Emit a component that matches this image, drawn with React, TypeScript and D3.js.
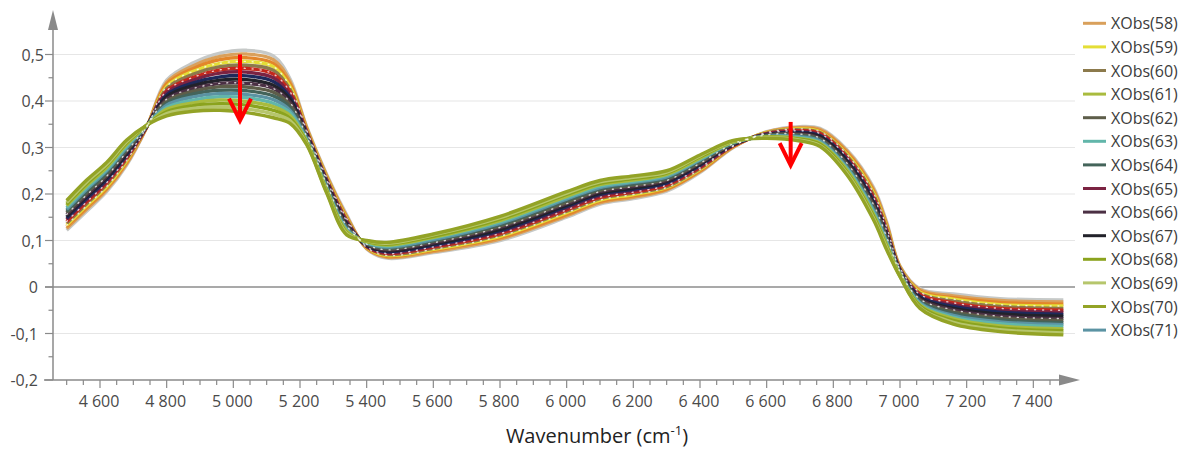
import React from "react";
import * as d3 from "d3";

const wavenumbers = [4500, 4560, 4620, 4680, 4740, 4800, 4880, 4960, 5040, 5120, 5170, 5220, 5280, 5340, 5400, 5460, 5600, 5800, 6000, 6100, 6200, 6300, 6400, 6500, 6600, 6700, 6760, 6840, 6920, 6960, 7000, 7060, 7160, 7300, 7490];

// absorbance per observation (top of the 5000 band first)
const xObs50 = [0.122, 0.163, 0.205, 0.262, 0.343, 0.445, 0.482, 0.503, 0.509, 0.497, 0.448, 0.345, 0.242, 0.155, 0.082, 0.062, 0.074, 0.100, 0.150, 0.178, 0.190, 0.206, 0.246, 0.300, 0.334, 0.345, 0.341, 0.296, 0.215, 0.140, 0.045, -0.004, -0.015, -0.025, -0.028];
const xObs58 = [0.126, 0.167, 0.209, 0.265, 0.343, 0.440, 0.476, 0.496, 0.501, 0.489, 0.442, 0.343, 0.240, 0.152, 0.083, 0.064, 0.076, 0.103, 0.153, 0.181, 0.193, 0.209, 0.248, 0.301, 0.333, 0.343, 0.339, 0.293, 0.211, 0.136, 0.044, -0.006, -0.019, -0.029, -0.032];
const xObs51 = [0.130, 0.171, 0.212, 0.268, 0.344, 0.436, 0.470, 0.489, 0.493, 0.481, 0.437, 0.340, 0.237, 0.150, 0.084, 0.066, 0.079, 0.106, 0.156, 0.184, 0.196, 0.211, 0.250, 0.302, 0.332, 0.341, 0.336, 0.290, 0.207, 0.133, 0.042, -0.009, -0.023, -0.033, -0.037];
const xObs59 = [0.133, 0.175, 0.216, 0.272, 0.344, 0.431, 0.464, 0.481, 0.485, 0.474, 0.431, 0.338, 0.235, 0.147, 0.085, 0.068, 0.081, 0.109, 0.160, 0.187, 0.199, 0.214, 0.253, 0.303, 0.332, 0.340, 0.334, 0.286, 0.203, 0.129, 0.041, -0.011, -0.026, -0.038, -0.041];
const xObs60 = [0.137, 0.179, 0.220, 0.275, 0.344, 0.427, 0.458, 0.474, 0.477, 0.466, 0.425, 0.336, 0.233, 0.145, 0.086, 0.070, 0.083, 0.112, 0.163, 0.190, 0.202, 0.216, 0.255, 0.304, 0.331, 0.338, 0.332, 0.283, 0.199, 0.126, 0.040, -0.014, -0.030, -0.042, -0.046];
const xObs52 = [0.141, 0.183, 0.224, 0.278, 0.344, 0.422, 0.451, 0.467, 0.470, 0.458, 0.420, 0.334, 0.230, 0.142, 0.087, 0.072, 0.086, 0.115, 0.166, 0.193, 0.204, 0.219, 0.257, 0.304, 0.330, 0.336, 0.330, 0.280, 0.194, 0.122, 0.038, -0.016, -0.034, -0.046, -0.050];
const xObs65 = [0.145, 0.187, 0.227, 0.281, 0.345, 0.418, 0.445, 0.460, 0.462, 0.450, 0.414, 0.331, 0.228, 0.140, 0.088, 0.074, 0.088, 0.118, 0.169, 0.196, 0.207, 0.222, 0.259, 0.305, 0.329, 0.334, 0.327, 0.277, 0.190, 0.119, 0.037, -0.019, -0.038, -0.050, -0.054];
const xObs53 = [0.148, 0.191, 0.231, 0.284, 0.345, 0.413, 0.439, 0.452, 0.454, 0.442, 0.408, 0.329, 0.226, 0.137, 0.089, 0.076, 0.090, 0.121, 0.173, 0.199, 0.210, 0.224, 0.262, 0.306, 0.328, 0.332, 0.325, 0.274, 0.186, 0.115, 0.036, -0.021, -0.042, -0.054, -0.059];
const xObs67 = [0.152, 0.195, 0.235, 0.287, 0.346, 0.409, 0.433, 0.445, 0.446, 0.434, 0.403, 0.327, 0.223, 0.135, 0.090, 0.078, 0.093, 0.124, 0.176, 0.202, 0.213, 0.227, 0.264, 0.307, 0.327, 0.330, 0.323, 0.271, 0.182, 0.112, 0.034, -0.024, -0.046, -0.058, -0.063];
const xObs66 = [0.156, 0.198, 0.238, 0.291, 0.346, 0.404, 0.427, 0.438, 0.438, 0.427, 0.397, 0.324, 0.221, 0.132, 0.092, 0.080, 0.095, 0.128, 0.179, 0.205, 0.216, 0.229, 0.266, 0.308, 0.327, 0.329, 0.320, 0.267, 0.178, 0.108, 0.033, -0.026, -0.049, -0.063, -0.068];
const xObs62 = [0.160, 0.202, 0.242, 0.294, 0.346, 0.400, 0.421, 0.431, 0.430, 0.419, 0.392, 0.322, 0.218, 0.130, 0.093, 0.082, 0.098, 0.131, 0.182, 0.208, 0.219, 0.232, 0.268, 0.309, 0.326, 0.327, 0.318, 0.264, 0.174, 0.105, 0.031, -0.029, -0.053, -0.067, -0.072];
const xObs64 = [0.163, 0.206, 0.246, 0.297, 0.346, 0.395, 0.415, 0.423, 0.422, 0.411, 0.386, 0.320, 0.216, 0.127, 0.094, 0.084, 0.100, 0.134, 0.186, 0.211, 0.222, 0.234, 0.271, 0.310, 0.325, 0.325, 0.316, 0.261, 0.170, 0.101, 0.030, -0.031, -0.057, -0.071, -0.077];
const xObs71 = [0.167, 0.210, 0.250, 0.300, 0.347, 0.391, 0.409, 0.416, 0.414, 0.403, 0.380, 0.318, 0.214, 0.125, 0.095, 0.086, 0.102, 0.137, 0.189, 0.214, 0.225, 0.237, 0.273, 0.311, 0.324, 0.323, 0.314, 0.258, 0.166, 0.098, 0.029, -0.034, -0.061, -0.075, -0.081];
const xObs63 = [0.171, 0.214, 0.253, 0.303, 0.347, 0.386, 0.402, 0.409, 0.407, 0.395, 0.375, 0.315, 0.211, 0.122, 0.096, 0.088, 0.105, 0.140, 0.192, 0.217, 0.227, 0.240, 0.275, 0.311, 0.323, 0.321, 0.311, 0.255, 0.161, 0.094, 0.027, -0.036, -0.065, -0.079, -0.085];
const xObs61 = [0.175, 0.218, 0.257, 0.307, 0.347, 0.382, 0.396, 0.402, 0.399, 0.388, 0.369, 0.313, 0.209, 0.120, 0.097, 0.090, 0.107, 0.143, 0.195, 0.220, 0.230, 0.242, 0.277, 0.312, 0.323, 0.319, 0.309, 0.252, 0.157, 0.091, 0.026, -0.039, -0.068, -0.084, -0.090];
const xObs68 = [0.178, 0.222, 0.261, 0.310, 0.348, 0.377, 0.390, 0.394, 0.391, 0.380, 0.363, 0.311, 0.207, 0.117, 0.098, 0.092, 0.109, 0.146, 0.199, 0.223, 0.233, 0.245, 0.280, 0.313, 0.322, 0.318, 0.307, 0.248, 0.153, 0.087, 0.025, -0.041, -0.072, -0.088, -0.094];
const xObs69 = [0.182, 0.226, 0.264, 0.313, 0.348, 0.373, 0.384, 0.387, 0.383, 0.372, 0.358, 0.308, 0.204, 0.115, 0.099, 0.094, 0.112, 0.149, 0.202, 0.226, 0.236, 0.247, 0.282, 0.314, 0.321, 0.316, 0.304, 0.245, 0.149, 0.084, 0.023, -0.044, -0.076, -0.092, -0.099];
const xObs70 = [0.186, 0.230, 0.268, 0.316, 0.348, 0.368, 0.378, 0.380, 0.375, 0.364, 0.352, 0.306, 0.202, 0.112, 0.100, 0.096, 0.114, 0.152, 0.205, 0.229, 0.239, 0.250, 0.284, 0.315, 0.320, 0.314, 0.302, 0.242, 0.145, 0.080, 0.022, -0.046, -0.080, -0.096, -0.103];

// drawing order and the names shown in the legend
const seriesNames = ["XObs(50)", "XObs(58)", "XObs(51)", "XObs(59)", "XObs(60)", "XObs(52)", "XObs(65)", "XObs(53)", "XObs(67)", "XObs(66)", "XObs(62)", "XObs(64)", "XObs(71)", "XObs(63)", "XObs(61)", "XObs(68)", "XObs(69)", "XObs(70)"];
const seriesValues = [xObs50, xObs58, xObs51, xObs59, xObs60, xObs52, xObs65, xObs53, xObs67, xObs66, xObs62, xObs64, xObs71, xObs63, xObs61, xObs68, xObs69, xObs70];
const legendNames = ["XObs(58)", "XObs(59)", "XObs(60)", "XObs(61)", "XObs(62)", "XObs(63)", "XObs(64)", "XObs(65)", "XObs(66)", "XObs(67)", "XObs(68)", "XObs(69)", "XObs(70)", "XObs(71)"];
// observations whose trace shows the white speckles
const speckled = ["XObs(59)", "XObs(52)", "XObs(66)"];

const yTicks = [-0.2, -0.1, 0, 0.1, 0.2, 0.3, 0.4, 0.5];

// the two red arrows: wavenumber, start and end absorbance
const arrows = [
	{ w: 5020, from: 0.5, to: 0.358 },
	{ w: 6672, from: 0.355, to: 0.262 },
];

const colors: Record<string, string> = {
	"XObs(50)": "#c6c9c8",
	"XObs(58)": "#d9a05b",
	"XObs(51)": "#e3862a",
	"XObs(59)": "#e4de36",
	"XObs(60)": "#8c7a4c",
	"XObs(52)": "#c4281c",
	"XObs(65)": "#7b2342",
	"XObs(53)": "#1e2a5c",
	"XObs(67)": "#22222a",
	"XObs(66)": "#4b3044",
	"XObs(62)": "#5e5e4a",
	"XObs(64)": "#44645a",
	"XObs(71)": "#5b93a3",
	"XObs(63)": "#62b6aa",
	"XObs(61)": "#a9bb3e",
	"XObs(68)": "#8ba31e",
	"XObs(69)": "#b6c66c",
	"XObs(70)": "#93a326",
};

const W = 1192;
const H = 450;
const FONT = "'Open Sans', 'Noto Sans', sans-serif";

const loc = d3.formatLocale({
	decimal: ",",
	thousands: "\u00a0",
	grouping: [3],
	currency: ["", ""],
	minus: "-",
});
const fmtX = loc.format(",");
const fmtY = (v: number) => (Math.abs(v) < 1e-9 ? "0" : loc.format(".1f")(v));

export default function App() {
	const x = d3.scaleLinear().domain([4600, 7400]).range([100, 1033.33]);
	const y = d3.scaleLinear().domain([-0.2, 0.5]).range([380, 54.5]);

	const axisX = 53;
	const axisY = y(-0.2);
	const gridRight = 1075;

	const line = d3
		.line<number>()
		.x((_, i) => x(wavenumbers[i]))
		.y((d) => y(d))
		.curve(d3.curveCatmullRom.alpha(0.5));

	const xTicks = d3.range(4500, 7451, 50);
	const yMinor = d3.range(-0.15, 0.5, 0.1);

	return (
		<svg
			width={W}
			height={H}
			style={{ position: "absolute", left: 0, top: 0, background: "#fff" }}
			fontFamily={FONT}
		>
			{/* grid */}
			{yTicks
				.filter((v) => v !== 0 && v !== -0.2)
				.map((v) => (
					<line key={"g" + v} x1={axisX} x2={gridRight} y1={y(v)} y2={y(v)} stroke="#e6e6e6" strokeWidth={1.2} />
				))}
			<line x1={45} x2={gridRight} y1={y(0)} y2={y(0)} stroke="#8c8c8c" strokeWidth={1.5} />

			{/* y axis */}
			<line x1={axisX} x2={axisX} y1={axisY} y2={28} stroke="#8a8a8a" strokeWidth={1.5} />
			<path d={`M${axisX},10 L${axisX - 5},30 L${axisX + 5},30 Z`} fill="#8a8a8a" />
			{yTicks.map((v) => (
				<line key={"yt" + v} x1={45} x2={axisX} y1={y(v)} y2={y(v)} stroke="#8a8a8a" strokeWidth={1.2} />
			))}
			{yMinor.map((v) => (
				<line key={"ym" + v} x1={48.5} x2={axisX} y1={y(v)} y2={y(v)} stroke="#8a8a8a" strokeWidth={1.2} />
			))}
			{yTicks.map((v) => (
				<text
					key={"yl" + v}
					x={v > 0 ? 44 : 38}
					y={y(v)}
					textAnchor="end"
					dominantBaseline="central"
					fontSize={16}
					fill="#4a4a4a"
				>
					{fmtY(v)}
				</text>
			))}

			{/* x axis */}
			<line x1={44} x2={1062} y1={axisY} y2={axisY} stroke="#8a8a8a" strokeWidth={1.5} />
			<path d={`M1080,${axisY} L1059,${axisY - 5.5} L1059,${axisY + 5.5} Z`} fill="#8a8a8a" />
			{xTicks.map((w) => (
				<line
					key={"xt" + w}
					x1={x(w)}
					x2={x(w)}
					y1={axisY}
					y2={axisY + (w % 200 === 0 ? 8 : 5)}
					stroke="#8a8a8a"
					strokeWidth={1.2}
				/>
			))}
			{xTicks
				.filter((w) => w % 200 === 0)
				.map((w) => (
					<text key={"xl" + w} x={x(w) - 1} y={407} textAnchor="middle" fontSize={16} fill="#4a4a4a">
						{fmtX(w)}
					</text>
				))}
			<text x={597} y={443} textAnchor="middle" fontSize={20} fill="#222">
				Wavenumber (cm
				<tspan fontSize={13} dy={-8}>
					-1
				</tspan>
				<tspan dy={8}>)</tspan>
			</text>

			{/* spectra */}
			{seriesValues.map((vals, k) => (
				<path
					key={seriesNames[k]}
					d={line(vals) || ""}
					fill="none"
					stroke={colors[seriesNames[k]]}
					strokeWidth={3.4}
					strokeLinejoin="round"
				/>
			))}
			{seriesValues.map((vals, k) =>
				speckled.includes(seriesNames[k]) ? (
					<path
						key={"sp" + seriesNames[k]}
						d={line(vals) || ""}
						fill="none"
						stroke="#ffffff"
						strokeOpacity={0.75}
						strokeWidth={1.4}
						strokeDasharray="1 7"
						strokeLinecap="round"
					/>
				) : null,
			)}

			{/* red arrows */}
			{arrows.map((a, i) => {
				const ax = x(a.w);
				const y0 = y(a.from);
				const y1 = y(a.to);
				return (
					<g key={"ar" + i} stroke="#ff0000" strokeWidth={4} fill="none">
						<line x1={ax} x2={ax} y1={y0} y2={y1 - 2} />
						<polyline points={`${ax - 11},${y1 - 22} ${ax},${y1} ${ax + 11},${y1 - 22}`} />
					</g>
				);
			})}

			{/* legend */}
			{legendNames.map((name, i) => {
				const ly = 23.3 + i * 23.6;
				return (
					<g key={"lg" + name}>
						<line x1={1083} x2={1106} y1={ly} y2={ly} stroke={colors[name]} strokeWidth={3} />
						<text x={1111} y={ly} dominantBaseline="central" fontSize={16} fill="#3c3c3c">
							{name}
						</text>
					</g>
				);
			})}
		</svg>
	);
}
